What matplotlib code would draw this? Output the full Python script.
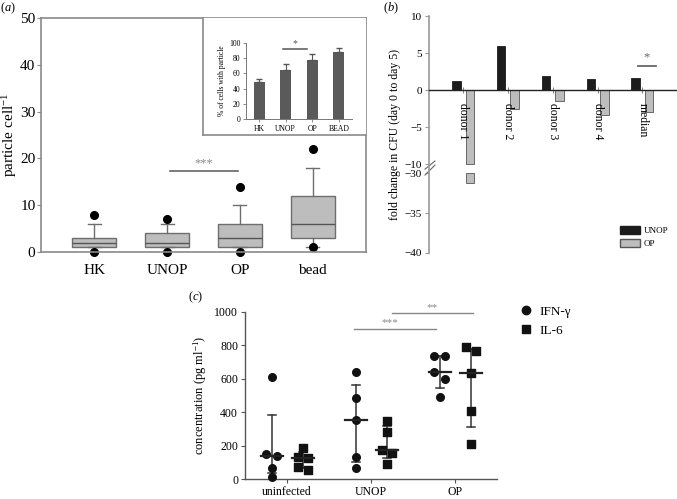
import matplotlib
matplotlib.use("Agg")
import matplotlib.pyplot as plt
from matplotlib.lines import Line2D
from matplotlib.patches import Patch
import numpy as np

plt.rcParams['font.family'] = ['Liberation Serif', 'DejaVu Serif']
plt.rcParams['mathtext.fontset'] = 'custom'
plt.rcParams['mathtext.rm'] = 'Liberation Serif'
plt.rcParams['mathtext.it'] = 'Liberation Serif:italic'

# ---- panel (a): particles per cell (box plot summary) ----
a_labels = ['HK', 'UNOP', 'OP', 'bead']
a_q1 = [1, 1, 1, 3]
a_med = [2, 2, 3, 6]
a_q3 = [3, 4, 6, 12]
a_whislo = [1, 1, 1, 1]
a_whishi = [6, 6, 10, 18]
a_fliers = [[8, 0], [7, 0], [13.8, 0], [22, 1]]

# inset: % of cells with particle
inset_labels = ['HK', 'UNOP', 'OP', 'BEAD']
inset_vals = [49, 65, 77, 88]
inset_err = [4, 8, 9, 5]

# ---- panel (b): fold change in CFU ----
b_labels = ['donor 1', 'donor 2', 'donor 3', 'donor 4', 'median']
b_unop = [1.2, 6.0, 1.9, 1.45, 1.65]
b_op = [-31.3, -2.6, -1.5, -3.4, -3.0]

# ---- panel (c): cytokines ----
c_labels = ['uninfected', 'UNOP', 'OP']
c_ifn = [[612, 150, 139, 65, 12],
         [638, 482, 353, 130, 68],
         [738, 735, 638, 600, 492]]
c_il6 = [[187, 133, 124, 74, 52],
         [349, 283, 171, 157, 90],
         [791, 767, 632, 408, 209]]

W, H = 677, 499
fig = plt.figure(figsize=(6.77, 4.99), dpi=100)


def px(l, t, r, b):
    return [l / W, (H - b) / H, (r - l) / W, (b - t) / H]


grey = '#8a8a8a'

# ================= (a) =================
ax = fig.add_axes(px(41, 18, 366, 252))
stats = []
for i in range(4):
    stats.append(dict(med=a_med[i], q1=a_q1[i], q3=a_q3[i],
                      whislo=a_whislo[i], whishi=a_whishi[i],
                      fliers=a_fliers[i]))
ax.bxp(stats, positions=range(4), widths=0.6, capwidths=0.18,
       patch_artist=True,
       boxprops=dict(facecolor='#bdbdbd', edgecolor='#6e6e6e', lw=1),
       medianprops=dict(color='#555555', lw=1),
       whiskerprops=dict(color='#6e6e6e', lw=1),
       capprops=dict(color='#6e6e6e', lw=1),
       flierprops=dict(marker='o', markerfacecolor='black',
                       markeredgecolor='black', markersize=5.5))
for ln in ax.lines:
    ln.set_clip_on(False)
ax.set_xlim(-0.73, 3.73)
ax.set_ylim(0, 50)
ax.set_yticks([0, 10, 20, 30, 40, 50])
ax.set_xticks(range(4))
ax.set_xticklabels(a_labels)
ax.tick_params(axis='x', length=0, labelsize=11, pad=9)
ax.tick_params(axis='y', length=3, color=grey, labelsize=11, pad=1)
for s in ax.spines.values():
    s.set_color(grey)
    s.set_linewidth(1.2)
ax.set_ylabel('particle cell$^{-1}$', fontsize=11, labelpad=1)
ax.plot([1.04, 1.97], [17.3, 17.3], color='#666666', lw=1.2)
ax.text(1.5, 17.6, '***', ha='center', va='bottom', color='#888888', fontsize=9)
fig.text(8 / W, 1 - 8 / H, r'($\it{a}$)', ha='center', va='center', fontsize=9)

# inset frame
fr = fig.add_axes(px(203, 18, 366, 135))
fr.set_xticks([])
fr.set_yticks([])
for k in ['top', 'right']:
    fr.spines[k].set_visible(False)
for k in ['left', 'bottom']:
    fr.spines[k].set_color(grey)
    fr.spines[k].set_linewidth(1.2)

ins = fig.add_axes(px(246, 43, 352, 119))
xi = np.arange(4)
ins.bar(xi, inset_vals, width=0.4, color='#5a5a5a',
        yerr=[np.zeros(4), inset_err], error_kw=dict(ecolor='#555555', lw=0.8, capsize=2))
ins.set_xlim(-0.5, 3.5)
ins.set_ylim(0, 100)
ins.set_yticks([0, 20, 40, 60, 80, 100])
ins.set_xticks(xi)
ins.set_xticklabels(inset_labels)
ins.tick_params(labelsize=5.5, length=2, width=0.6, color='#777777', pad=2)
for k in ['top', 'right']:
    ins.spines[k].set_visible(False)
for k in ['left', 'bottom']:
    ins.spines[k].set_color('#777777')
    ins.spines[k].set_linewidth(0.7)
ins.set_ylabel('% of cells with particle', fontsize=5.5, labelpad=2)
ins.plot([0.88, 1.8], [92, 92], color='#555555', lw=1.1, clip_on=False)
ins.text(1.34, 93, '*', ha='center', va='bottom', fontsize=7, color='#555555')

# ================= (b) =================
def fwd(v):
    v = np.asarray(v, float)
    return np.where(v > -20, v, -11.2 + (v + 30) * 1.08)


def inv(u):
    u = np.asarray(u, float)
    return np.where(u > -10.6, u, (u + 11.2) / 1.08 - 30)


bx = fig.add_axes(px(429, 16, 676, 253))
bx.set_yscale('function', functions=(fwd, inv))
xb = np.arange(len(b_labels))
bx.bar(xb - 0.15, b_unop, width=0.19, color='#1c1c1c', edgecolor='#1c1c1c', lw=0.6)
for x, v in zip(xb, b_op):
    if v < -20:
        bx.bar(x + 0.15, -10, width=0.19, color='#bdbdbd', edgecolor='#555555', lw=0.6)
        bx.bar(x + 0.15, v + 30, bottom=-30, width=0.19, color='#bdbdbd',
               edgecolor='#555555', lw=0.6)
    else:
        bx.bar(x + 0.15, v, width=0.19, color='#bdbdbd', edgecolor='#555555', lw=0.6)
bx.set_xlim(-0.76, 4.75)
bx.set_ylim(-40, 10)
bx.set_yticks([10, 5, 0, -5, -10, -30, -35, -40])
bx.set_yticklabels(['10', '5', '0', '\u22125', '\u221210', '\u221230', '\u221235', '\u221240'])
for k in ['top', 'right']:
    bx.spines[k].set_visible(False)
bx.spines['bottom'].set_position(('data', 0))
bx.spines['bottom'].set_color('#222222')
bx.spines['bottom'].set_linewidth(1)
bx.spines['left'].set_color('#9a9a9a')
bx.spines['left'].set_linewidth(1.2)
bx.set_xticks(xb)
bx.set_xticklabels(b_labels, rotation=-90, fontsize=8.5)
bx.tick_params(axis='x', direction='inout', length=5, color='#888888', pad=7)
bx.tick_params(axis='y', length=3, color='#9a9a9a', labelsize=8, pad=2)
bx.set_ylabel('fold change in CFU (day 0 to day 5)', fontsize=8.5, labelpad=3)
for y0, y1 in [(0.354, 0.388), (0.329, 0.371)]:
    bx.plot([-0.016, 0.024], [y0, y1], transform=bx.transAxes, color='#666666',
            lw=0.8, clip_on=False)
bx.plot([3.9, 4.3], [3.2, 3.2], color='#666666', lw=1.3)
bx.text(4.1, 3.6, '*', ha='center', va='bottom', fontsize=9, color='#666666')
bx.legend(handles=[Patch(facecolor='#1c1c1c', edgecolor='#1c1c1c', label='UNOP'),
                   Patch(facecolor='#bdbdbd', edgecolor='#555555', label='OP')],
          loc='upper left', bbox_to_anchor=(0.76, 0.13), frameon=False,
          fontsize=6.5, handlelength=2.2, handleheight=1.0, labelspacing=0.4,
          borderaxespad=0, handletextpad=0.4)
fig.text(391 / W, 1 - 8 / H, r'($\it{b}$)', ha='center', va='center', fontsize=9)

# ================= (c) =================
cx = fig.add_axes(px(245, 311.7, 497, 479))


def spread(vals, step=0.065, gap=45):
    # pair up neighbouring points that would overlap
    order = np.argsort(vals)[::-1]
    off = np.zeros(len(vals))
    i = 0
    while i < len(order):
        if i + 1 < len(order) and vals[order[i]] - vals[order[i + 1]] < gap:
            off[order[i]] = -step
            off[order[i + 1]] = step
            i += 2
        else:
            i += 1
    return off


for gi in range(3):
    for vals, dx, mk in [(c_ifn[gi], -0.18, 'o'), (c_il6[gi], 0.19, 's')]:
        vals = np.array(vals, float)
        xc = gi + dx
        q1, med, q3 = np.percentile(vals, [25, 50, 75], method='weibull')
        cx.plot([xc, xc], [q1, q3], color='#333333', lw=1.1)
        cx.plot([xc - 0.045, xc + 0.045], [q1, q1], color='#333333', lw=1.1)
        cx.plot([xc - 0.045, xc + 0.045], [q3, q3], color='#333333', lw=1.1)
        cx.scatter(xc + spread(vals), vals, marker=mk, s=30 if mk == 'o' else 27,
                   color='#111111', zorder=3, clip_on=False)
        cx.plot([xc - 0.13, xc + 0.13], [med, med], color='#222222', lw=1.6, zorder=4)

cx.set_xlim(-0.5, 2.5)
cx.set_ylim(0, 1000)
cx.set_yticks([0, 200, 400, 600, 800, 1000])
cx.set_xticks(range(3))
cx.set_xticklabels(c_labels)
for k in ['top', 'right']:
    cx.spines[k].set_visible(False)
for k in ['left', 'bottom']:
    cx.spines[k].set_color('#555555')
    cx.spines[k].set_linewidth(1)
cx.tick_params(length=3, color='#555555', labelsize=8.5, pad=2)
cx.tick_params(axis='x', labelsize=8.5, pad=2)
cx.set_ylabel('concentration (pg ml$^{-1}$)', fontsize=9, labelpad=4)
cx.plot([0.8, 1.77], [895, 895], color='#888888', lw=1, clip_on=False)
cx.text(1.22, 905, '***', ha='center', va='bottom', fontsize=8, color='#888888')
cx.plot([1.25, 2.22], [990, 990], color='#888888', lw=1, clip_on=False)
cx.text(1.73, 1000, '**', ha='center', va='bottom', fontsize=8, color='#888888')
cx.legend(handles=[Line2D([], [], marker='o', ls='none', color='#111111', markersize=6, label='IFN-\u03b3'),
                   Line2D([], [], marker='s', ls='none', color='#111111', markersize=5.5, label='IL-6')],
          loc='upper left', bbox_to_anchor=(1.04, 1.07), frameon=False, fontsize=9.5,
          handletextpad=0.05, labelspacing=0.55, borderaxespad=0)
fig.text(196 / W, 1 - 297 / H, r'($\it{c}$)', ha='center', va='center', fontsize=9)

fig.savefig('out.png', dpi=100)
